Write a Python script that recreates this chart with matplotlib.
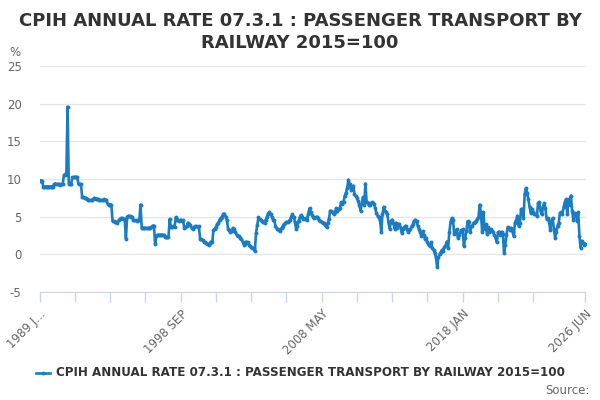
import matplotlib
matplotlib.use("Agg")
import matplotlib.pyplot as plt
import numpy as np

title = "CPIH ANNUAL RATE 07.3.1 : PASSENGER TRANSPORT BY\nRAILWAY 2015=100"
series_name = "CPIH ANNUAL RATE 07.3.1 : PASSENGER TRANSPORT BY RAILWAY 2015=100"
months = ["JAN", "FEB", "MAR", "APR", "MAY", "JUN", "JUL", "AUG", "SEP", "OCT", "NOV", "DEC"]

v1989 = [9.8, 9.8, 9.8, 9.0, 9.0, 9.0, 9.0, 9.0, 9.0, 9.0, 9.0, 9.0]
v1990 = [9.3, 9.4, 9.3, 9.3, 9.3, 9.2, 9.3, 9.3, 10.5, 10.6, 10.5, 19.6]
v1991 = [9.4, 9.3, 9.4, 10.2, 10.2, 10.3, 10.2, 10.2, 9.3, 9.3, 9.3, 7.6]
v1992 = [7.6, 7.5, 7.5, 7.4, 7.2, 7.2, 7.2, 7.2, 7.3, 7.5, 7.4, 7.4]
v1993 = [7.3, 7.2, 7.2, 7.2, 7.2, 7.3, 7.2, 7.2, 6.7, 6.6, 6.6, 6.6]
v1994 = [4.4, 4.4, 4.3, 4.3, 4.2, 4.5, 4.7, 4.8, 4.8, 4.7, 4.7, 2.1]
v1995 = [5.0, 5.1, 5.1, 5.0, 5.0, 4.6, 4.5, 4.5, 4.4, 4.5, 4.5, 6.6]
v1996 = [3.5, 3.5, 3.5, 3.5, 3.5, 3.5, 3.5, 3.5, 3.6, 3.8, 3.8, 1.4]
v1997 = [2.5, 2.6, 2.6, 2.6, 2.6, 2.6, 2.6, 2.3, 2.3, 2.3, 2.3, 4.7]
v1998 = [3.6, 3.6, 3.7, 3.6, 4.9, 4.5, 4.6, 4.4, 4.6, 4.4, 4.5, 3.5]
v1999 = [3.6, 3.7, 4.2, 4.0, 3.9, 3.5, 3.4, 3.6, 3.7, 3.7, 3.6, 3.7]
v2000 = [2.1, 2.0, 1.9, 1.7, 1.6, 1.5, 1.4, 1.3, 1.5, 1.7, 1.6, 3.2]
v2001 = [3.4, 3.6, 4.0, 4.2, 4.6, 4.8, 5.0, 5.3, 5.4, 5.0, 4.6, 3.4]
v2002 = [3.2, 3.0, 3.1, 3.5, 3.3, 3.0, 2.6, 2.5, 2.4, 2.2, 2.0, 1.7]
v2003 = [1.3, 1.4, 1.7, 1.6, 1.3, 1.1, 1.0, 0.9, 0.8, 0.4, 2.8, 3.9]
v2004 = [4.9, 4.7, 4.5, 4.4, 4.3, 4.1, 4.6, 5.0, 5.4, 5.6, 5.3, 5.0]
v2005 = [4.6, 4.5, 3.8, 3.4, 3.3, 3.2, 3.1, 3.5, 3.7, 4.0, 4.1, 4.3]
v2006 = [4.3, 4.4, 4.6, 5.0, 5.3, 5.0, 4.3, 3.4, 3.8, 4.4, 4.9, 5.2]
v2007 = [5.0, 4.7, 4.7, 4.8, 4.6, 5.4, 6.1, 5.6, 5.2, 5.0, 4.8, 4.9]
v2008 = [5.0, 4.8, 4.5, 4.4, 4.3, 4.2, 4.1, 3.9, 3.6, 4.2, 4.7, 5.8]
v2009 = [5.7, 5.6, 5.3, 5.6, 6.1, 5.8, 6.0, 6.2, 6.9, 6.7, 7.0, 7.8]
v2010 = [8.2, 8.8, 9.9, 9.3, 8.6, 8.9, 9.1, 8.0, 7.7, 7.5, 7.1, 6.5]
v2011 = [5.8, 6.8, 7.6, 6.6, 9.4, 6.9, 6.8, 6.5, 6.6, 6.9, 6.8, 6.7]
v2012 = [6.2, 5.5, 5.1, 4.9, 4.5, 3.0, 5.3, 6.3, 5.8, 5.6, 5.3, 4.2]
v2013 = [3.4, 4.4, 4.6, 4.1, 3.4, 4.2, 3.5, 4.0, 4.0, 3.5, 2.8, 3.3]
v2014 = [3.6, 3.8, 3.3, 3.0, 3.2, 3.3, 3.7, 4.0, 4.4, 4.6, 4.4, 3.8]
v2015 = [3.3, 2.9, 2.4, 3.1, 2.6, 2.0, 2.2, 1.6, 1.2, 1.1, 1.6, 0.8]
v2016 = [0.6, 0.2, -0.4, -1.7, -0.4, 0.0, 0.3, 0.6, 0.5, 1.0, 1.2, 1.7]
v2017 = [0.9, 2.9, 4.3, 4.8, 4.6, 2.7, 3.0, 3.3, 2.2, 2.6, 2.9, 3.2]
v2018 = [3.3, 1.1, 2.2, 3.1, 4.4, 4.3, 2.9, 3.7, 3.8, 4.2, 4.3, 4.4]
v2019 = [4.7, 5.0, 6.6, 5.5, 3.0, 5.6, 3.3, 4.0, 2.7, 3.6, 2.9, 3.3]
v2020 = [3.1, 2.9, 2.6, 2.2, 1.6, 2.9, 3.0, 2.6, 3.0, 2.7, 0.2, 1.3]
v2021 = [2.6, 3.6, 3.5, 3.2, 3.5, 3.0, 2.4, 4.2, 4.5, 5.1, 3.8, 4.1]
v2022 = [6.0, 6.0, 4.8, 8.0, 8.8, 8.2, 7.3, 6.3, 5.5, 6.0, 5.6, 5.3]
v2023 = [5.4, 5.1, 6.8, 6.9, 5.8, 5.3, 6.3, 6.8, 6.2, 4.7, 4.8, 4.4]
v2024 = [3.2, 4.4, 4.8, 3.3, 2.2, 3.0, 3.8, 4.2, 5.5, 5.6, 5.3, 6.3]
v2025 = [6.9, 7.3, 5.3, 7.3, 6.5, 7.8, 5.8, 4.6, 5.5, 5.4, 4.4, 5.6]
v2026 = [2.4, 0.9, 1.8, 1.5, 1.3, 1.4]

yearly = [v1989, v1990, v1991, v1992, v1993, v1994, v1995, v1996, v1997, v1998,
          v1999, v2000, v2001, v2002, v2003, v2004, v2005, v2006, v2007, v2008,
          v2009, v2010, v2011, v2012, v2013, v2014, v2015, v2016, v2017, v2018,
          v2019, v2020, v2021, v2022, v2023, v2024, v2025, v2026]

values = []
categories = []
for k, vals in enumerate(yearly):
    for m, v in enumerate(vals):
        values.append(v)
        categories.append(f"{1989 + k} {months[m]}")

labeled_cats = ["1989 JAN", "1998 SEP", "2008 MAY", "2018 JAN", "2026 JUN"]
yticks = [-5, 0, 5, 10, 15, 20, 25]

fig = plt.figure(figsize=(6, 4), dpi=100)
ax = fig.add_axes([39.6 / 600, 1 - 292 / 400, (585.5 - 39.6) / 600, (292 - 66) / 400])

for s in ["top", "right", "left"]:
    ax.spines[s].set_visible(False)
ax.spines["bottom"].set_color("#ccd6eb")

x = np.arange(len(values))
color = "#1a7dc4"
ax.plot(x, values, color=color, lw=1.9, marker="o", ms=2.8, mew=0, zorder=3)

ax.set_xlim(0, len(values) - 1)
ax.set_ylim(-5, 25)
ax.set_yticks(yticks)
ax.set_yticklabels([str(t) for t in yticks], color="#666666", fontsize=8.5)
ax.tick_params(axis="y", length=0, pad=13)
ax.grid(axis="y", color="#e6e6e6", lw=1)
ax.set_axisbelow(True)

# x ticks every 29 categories plus last
tick_pos = list(range(0, len(values) - 30, 29)) + [len(values) - 1]
ax.set_xticks(tick_pos)
lab = []
for p in tick_pos:
    c = categories[p]
    if c in labeled_cats:
        lab.append("1989 J…" if c == "1989 JAN" else c)
    else:
        lab.append("")
ax.set_xticklabels(lab, rotation=45, ha="right", rotation_mode="anchor",
                   color="#666666", fontsize=8.5)
ax.tick_params(axis="x", length=7, color="#ccd6eb", width=1, pad=4)

fig.text(0.5, 1 - 32 / 400, title, ha="center", va="center", fontsize=13,
         fontweight="bold", color="#333333", linespacing=1.3)
fig.text(9 / 600, 1 - 52 / 400, "%", fontsize=8.5, color="#666666", va="center")

# legend
lx0, ly = 36 / 600, 1 - 373 / 400
fig.lines.append(plt.Line2D([lx0, lx0 + 14 / 600], [ly, ly], transform=fig.transFigure,
                            color=color, lw=1.9))
fig.lines.append(plt.Line2D([lx0 + 7 / 600], [ly], transform=fig.transFigure,
                            color=color, marker="o", ms=2.8, mew=0))
fig.text(56 / 600, ly, series_name, fontsize=8.6, fontweight="bold", color="#333333",
         va="center", ha="left")
fig.text(590 / 600, 1 - 390 / 400, "Source:", fontsize=8.5, color="#666666",
         va="center", ha="right")

fig.savefig("out.png", dpi=100)
